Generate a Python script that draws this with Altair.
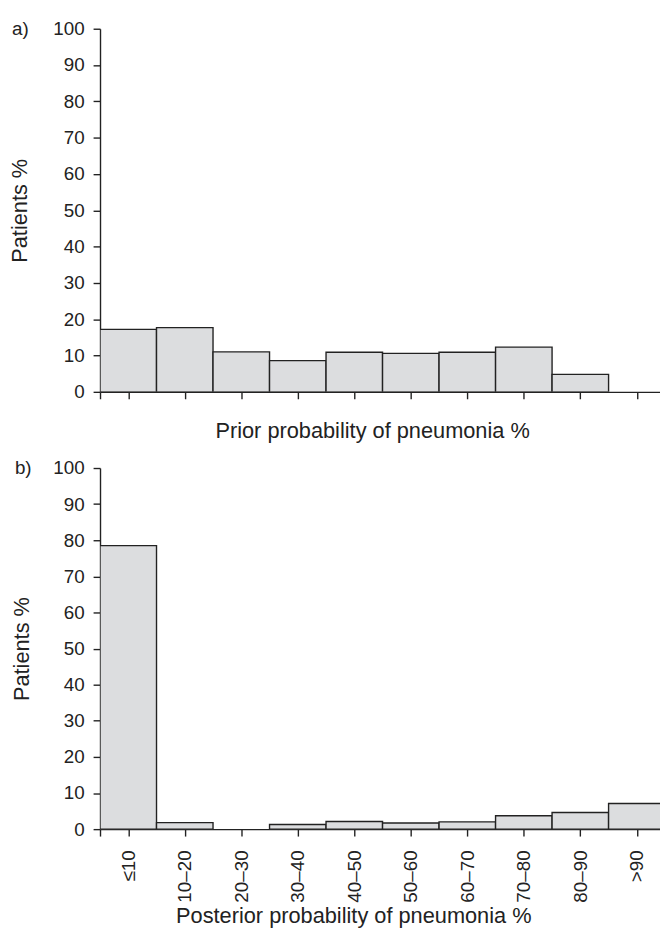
import json
import altair as alt
import pandas as pd

categories = ["≤10", "10–20", "20–30", "30–40", "40–50", "50–60", "60–70", "70–80", "80–90", ">90"]
prior_pct = [17.2, 17.7, 11.0, 8.6, 10.9, 10.6, 10.9, 12.3, 4.8, 0.0]
posterior_pct = [78.5, 1.8, 0.0, 1.3, 2.1, 1.7, 2.0, 3.7, 4.6, 7.1]
y_ticks = list(range(0, 101, 10))
x_ticks = [0] + [i * 10 + 5 for i in range(len(categories))]

FONT = "Liberation Sans"
FS = 19
TFS = 22
INK = "#222222"


def frame(values):
    return pd.DataFrame({
        "cat": categories,
        "lo": [i * 10 for i in range(len(categories))],
        "hi": [(i + 1) * 10 for i in range(len(categories))],
        "base": [0] * len(categories),
        "val": values,
    })


label_expr = json.dumps([""] + categories) + "[floor((datum.value + 5) / 10)]"


def panel(values, tag, xtitle, show_labels, ytitle_pad, height, dx, xt_pad, xt_x):
    xaxis = alt.Axis(
        values=x_ticks, title=xtitle, grid=False, tickSize=7,
        labels=show_labels, labelAngle=-90, labelExpr=label_expr,
        labelPadding=14, titlePadding=xt_pad, titleX=xt_x,
    )
    yaxis = alt.Axis(
        values=y_ticks, title="Patients %", grid=False, tickSize=7,
        labelPadding=9, titlePadding=ytitle_pad,
    )
    return alt.Chart(frame(values)).transform_filter("datum.val > 0").mark_rect(
        fill="#dcdddf", stroke=INK, strokeWidth=1.4, clip=True
    ).encode(
        x=alt.X("lo:Q", scale=alt.Scale(domain=[0, 99.1], nice=False, zero=False), axis=xaxis),
        x2="hi:Q",
        y=alt.Y("val:Q", scale=alt.Scale(domain=[0, 100], nice=False), axis=yaxis),
        y2="base:Q",
    ).properties(
        width=566, height=height,
        title=alt.TitleParams(tag, anchor="start", frame="group", fontSize=FS,
                              fontWeight="normal", font=FONT, color=INK,
                              baseline="middle", offset=0, dx=dx, dy=28),
    )


a = panel(prior_pct, "a)", "Prior probability of pneumonia %", False, 22, 367, -89, 21, 275)
b = panel(posterior_pct, "b)", "Posterior probability of pneumonia %", True, 20, 365, -86, 4, 256)

chart = alt.vconcat(a, b, spacing=18).properties(
    padding={"left": 0, "top": 7, "right": 0, "bottom": 0}
).configure_view(stroke=None).configure_axis(
    domainColor=INK, tickColor=INK, labelColor=INK, titleColor=INK,
    domainWidth=1.4, tickWidth=1.4, labelFont=FONT, titleFont=FONT,
    labelFontSize=FS, titleFontSize=TFS, titleFontWeight="normal",
)

chart.save("out.html", embed_options={"renderer": "svg", "actions": False})
